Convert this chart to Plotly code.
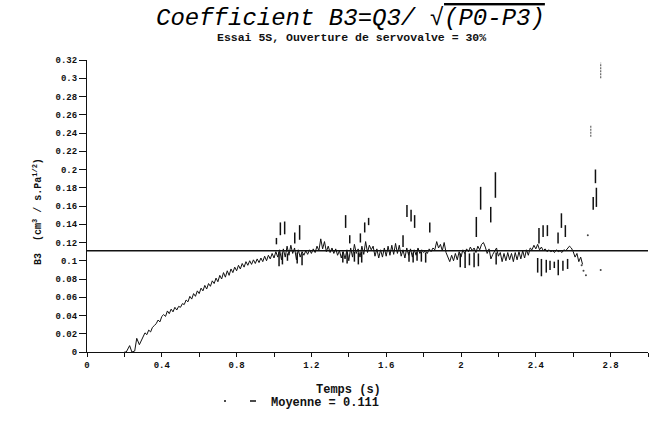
import plotly.graph_objects as go

# ---------------- data ----------------
start_t = [0.20, 0.21, 0.228, 0.24, 0.255, 0.266, 0.28, 0.29]
start_v = [0.0, 0.0, 0.007, 0.0, 0.001, 0.015, 0.008, 0.013]

grid_t0 = 0.30
grid_dt = 0.01
main_v = [
    # 0.30 - 1.02
    0.017, 0.021, 0.019, 0.024, 0.022, 0.027, 0.029, 0.031, 0.035, 0.033,
    0.039, 0.041, 0.039, 0.045, 0.042, 0.047, 0.044, 0.049, 0.046, 0.050,
    0.049, 0.053, 0.052, 0.057, 0.055, 0.061, 0.058, 0.064, 0.061, 0.067,
    0.064, 0.070, 0.067, 0.073, 0.069, 0.075, 0.072, 0.078, 0.075, 0.081,
    0.077, 0.084, 0.080, 0.087, 0.082, 0.089, 0.084, 0.091, 0.087, 0.093,
    0.089, 0.095, 0.091, 0.097, 0.093, 0.099, 0.095, 0.100, 0.096, 0.101,
    0.097, 0.102, 0.098, 0.103, 0.099, 0.105, 0.100, 0.106, 0.102, 0.108,
    0.103, 0.110, 0.104,
    # 1.03 - 2.65
    0.112, 0.101, 0.113, 0.104, 0.116, 0.106, 0.117, 0.108, 0.114, 0.101,
    0.112, 0.104, 0.110, 0.106, 0.111, 0.107, 0.112, 0.108, 0.113, 0.109,
    0.116, 0.111, 0.124, 0.113, 0.121, 0.110, 0.116, 0.109, 0.114, 0.108,
    0.113, 0.106, 0.111, 0.103, 0.110, 0.102, 0.112, 0.100, 0.114, 0.104,
    0.118, 0.108, 0.113, 0.104, 0.116, 0.107, 0.121, 0.109, 0.117, 0.112,
    0.116, 0.105, 0.113, 0.103, 0.112, 0.104, 0.114, 0.105, 0.116, 0.106,
    0.117, 0.107, 0.119, 0.108, 0.117, 0.105, 0.112, 0.103, 0.114, 0.106,
    0.113, 0.104, 0.112, 0.106, 0.114, 0.108, 0.112, 0.109, 0.111, 0.108,
    0.113, 0.110, 0.114, 0.112, 0.121, 0.114, 0.118, 0.111, 0.120, 0.109,
    0.104, 0.099, 0.106, 0.100, 0.108, 0.101, 0.110, 0.104, 0.112, 0.108,
    0.113, 0.110, 0.115, 0.111, 0.114, 0.109, 0.116, 0.112, 0.118, 0.120,
    0.115, 0.108, 0.113, 0.102, 0.107, 0.111, 0.114, 0.105, 0.109, 0.099,
    0.108, 0.100, 0.109, 0.101, 0.108, 0.099, 0.109, 0.101, 0.110, 0.102,
    0.111, 0.103, 0.112, 0.106, 0.114, 0.112, 0.117, 0.113, 0.118, 0.112,
    0.115, 0.111, 0.113, 0.110, 0.112, 0.110, 0.111, 0.109, 0.112, 0.110,
    0.111, 0.109, 0.112, 0.111, 0.113, 0.116, 0.114, 0.110, 0.104, 0.108,
    0.099, 0.104, 0.096,
]

up_t = [1.013, 1.034, 1.057, 1.111, 1.137, 1.383, 1.405, 1.462, 1.485, 1.506,
        1.690, 1.711, 1.733, 1.752, 1.833, 2.082, 2.105, 2.159, 2.184,
        2.417, 2.439, 2.462, 2.519, 2.537, 2.558, 2.707, 2.719, 2.724]
up_lo = [0.118, 0.128, 0.129, 0.119, 0.123, 0.136, 0.119, 0.120, 0.131, 0.139,
         0.115, 0.148, 0.143, 0.136, 0.131, 0.126, 0.156, 0.142, 0.169,
         0.119, 0.126, 0.127, 0.119, 0.136, 0.126, 0.156, 0.185, 0.159]
up_hi = [0.125, 0.142, 0.143, 0.131, 0.139, 0.150, 0.128, 0.130, 0.142, 0.147,
         0.128, 0.161, 0.156, 0.150, 0.142, 0.148, 0.181, 0.159, 0.197,
         0.136, 0.139, 0.139, 0.131, 0.152, 0.139, 0.170, 0.200, 0.180]

down_t = [1.027, 1.045, 1.072, 1.124, 1.150, 1.368, 1.391, 1.430, 1.451, 1.469,
          1.722, 1.744, 1.765, 1.788, 1.811, 1.996, 2.022, 2.045, 2.070, 2.093,
          2.188, 2.410, 2.430, 2.456, 2.476, 2.499, 2.520, 2.545, 2.570]
down_lo = [0.094, 0.096, 0.100, 0.097, 0.095, 0.098, 0.097, 0.099, 0.096, 0.098,
           0.099, 0.098, 0.100, 0.099, 0.098, 0.093, 0.092, 0.095, 0.093, 0.094,
           0.096, 0.087, 0.083, 0.087, 0.090, 0.092, 0.084, 0.089, 0.091]
down_hi = [0.110, 0.109, 0.108, 0.109, 0.108, 0.110, 0.109, 0.110, 0.109, 0.110,
           0.110, 0.109, 0.110, 0.110, 0.109, 0.108, 0.109, 0.108, 0.109, 0.108,
           0.109, 0.103, 0.102, 0.101, 0.100, 0.099, 0.101, 0.100, 0.102]

faint_t = [2.694, 2.747]
faint_lo = [0.236, 0.300]
faint_hi = [0.249, 0.317]

dots_t = [2.645, 2.655, 2.668, 2.678, 2.747]
dots_v = [0.095, 0.089, 0.084, 0.128, 0.090]

mean_value = 0.111
x_ticks = [0.0, 0.2, 0.4, 0.6, 0.8, 1.0, 1.2, 1.4, 1.6, 1.8, 2.0, 2.2, 2.4, 2.6, 2.8, 3.0]
x_ticklabels = ["0", "", "0.4", "", "0.8", "", "1.2", "", "1.6", "", "2", "", "2.4", "", "2.8", ""]

# ---------------- figure ----------------
main_t = start_t + [round(grid_t0 + grid_dt * i, 3) for i in range(len(main_v))]
main_y = start_v + main_v


def segments(ts, lo, hi):
    xs, ys = [], []
    for t, a, b in zip(ts, lo, hi):
        xs += [t, t, None]
        ys += [a, b, None]
    return xs, ys


FONT = "Liberation Mono"
INK = "#111"
fig = go.Figure()

fig.add_trace(go.Scatter(x=[0, 3.0], y=[mean_value, mean_value], mode="lines",
                         line=dict(color=INK, width=1.6), showlegend=False))
fig.add_trace(go.Scatter(x=main_t, y=main_y, mode="lines",
                         line=dict(color=INK, width=1), showlegend=False))
ux, uy = segments(up_t, up_lo, up_hi)
fig.add_trace(go.Scatter(x=ux, y=uy, mode="lines",
                         line=dict(color=INK, width=1.5), showlegend=False))
dx, dy = segments(down_t, down_lo, down_hi)
fig.add_trace(go.Scatter(x=dx, y=dy, mode="lines",
                         line=dict(color=INK, width=1.5), showlegend=False))
fx, fy = segments(faint_t, faint_lo, faint_hi)
fig.add_trace(go.Scatter(x=fx, y=fy, mode="lines",
                         line=dict(color="#666", width=1.2, dash="2px,1px"), showlegend=False))
fig.add_trace(go.Scatter(x=dots_t, y=dots_v, mode="markers",
                         marker=dict(color="#444", size=2), showlegend=False))
# legend entry
fig.add_trace(go.Scatter(x=[None], y=[None], mode="lines", name="Moyenne = " + str(mean_value),
                         line=dict(color=INK, width=1.5, dash="2px,24px,6px,100px")))

fig.update_layout(
    width=650, height=429,
    margin=dict(l=87, r=2, t=60, b=77),
    paper_bgcolor="white", plot_bgcolor="white",
    font=dict(family=FONT, color=INK, size=9, weight="bold"),
    showlegend=True,
    legend=dict(x=(219 - 87) / 561, y=(352 - 401) / 292, xanchor="left", yanchor="middle",
                bgcolor="rgba(0,0,0,0)", font=dict(size=12, family=FONT, weight="bold"),
                itemwidth=42, tracegroupgap=0),
    xaxis=dict(range=[0, 3.0], tickvals=x_ticks, ticktext=x_ticklabels,
               showgrid=False, zeroline=False, showline=True, linecolor=INK, linewidth=1.2,
               ticks="outside", ticklen=4, tickcolor=INK, tickwidth=1,
               tickfont=dict(size=9, family=FONT, weight="bold")),
    yaxis=dict(range=[0, 0.32], dtick=0.02, tick0=0,
               showgrid=False, zeroline=False, showline=True, linecolor=INK, linewidth=1.2,
               ticks="outside", ticklen=7, tickcolor=INK, tickwidth=1,
               tickfont=dict(size=9, family=FONT, weight="bold")),
    annotations=[
        dict(text="<i>Coefficient B3=Q3/ √<span style='text-decoration:overline'>(P0-P3)</span></i>",
             x=(350 - 87) / 561, y=(352 - 18) / 292, xref="paper", yref="paper",
             xanchor="center", yanchor="middle",
             showarrow=False, font=dict(size=24, family=FONT, weight="normal", color="#000")),
        dict(text="Essai 5S, Ouverture de servovalve = 30%",
             x=(351 - 87) / 561, y=(352 - 38) / 292, xref="paper", yref="paper",
             xanchor="center", yanchor="middle",
             showarrow=False, font=dict(size=11.5, family=FONT, weight="bold")),
        dict(text="B3  (cm<sup>3</sup> / s.Pa<sup>1/2</sup>)",
             x=(37 - 87) / 561, y=(352 - 212) / 292, xref="paper", yref="paper",
             xanchor="center", yanchor="middle",
             textangle=-90, showarrow=False, font=dict(size=10, family=FONT, weight="bold")),
        dict(text="Temps (s)",
             x=(348 - 87) / 561, y=(352 - 390) / 292, xref="paper", yref="paper",
             xanchor="center", yanchor="middle",
             showarrow=False, font=dict(size=12, family=FONT, weight="bold")),
    ],
)

fig.write_html("out.html")
